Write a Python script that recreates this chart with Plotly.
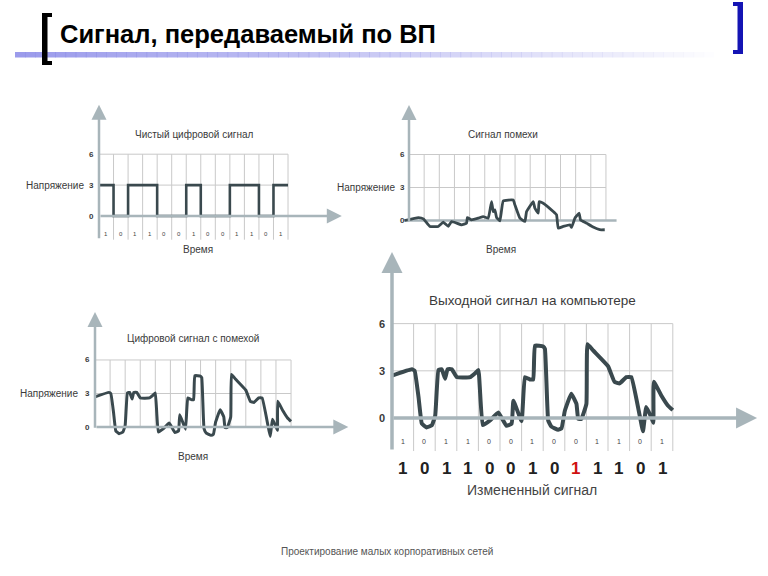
import plotly.graph_objects as go

W, H = 768, 576

# ---------------- data ----------------
clean_bits = [1, 0, 1, 1, 0, 0, 1, 0, 0, 1, 1, 0, 1]
received_bits = [1, 0, 1, 1, 0, 0, 1, 0, 1, 1, 1, 0, 1]
error_index = 8
voltage_ticks = [0, 3, 6]

noise_x = [-0.3, 0.62, 0.95, 1.38, 1.93, 2.26, 2.59, 2.81, 3.47, 3.8, 3.85, 4.13, 4.57, 4.9, 5.23,
           5.45, 5.56, 5.67, 5.78, 6.0, 6.22, 6.88, 6.99, 7.32, 7.65, 7.76, 8.2, 8.31, 8.53, 8.59,
           8.86, 9.52, 9.74, 9.85, 10.18, 10.62, 10.73, 10.95, 11.23, 11.32, 11.71, 12.15, 12.59, 12.92]
noise_y = [0, 0.27, 0.15, -0.54, -0.54, -0.15, -0.54, -0.09, -0.39, -0.24, 0.27, 0.06, 0.21, 0.36, 0.21,
           1.72, 0.81, 0.96, 0.27, -0.03, 1.78, 1.87, 1.42, 0.21, -0.09, 0.81, 1.72, 1.11, 0.66, 1.72,
           1.57, 0.81, 0.51, -0.69, -0.54, -0.39, -0.63, 0.21, 0.66, 0.06, -0.24, -0.6, -0.84, -0.84]

noisy_x = [0, 0.92, 1.05, 1.23, 1.38, 1.6, 1.85, 2.0, 2.15, 2.3, 2.46, 2.57, 2.77, 3.0, 3.62, 3.85, 4.0,
           4.2, 4.54, 4.92, 5.3, 5.54, 5.62, 6.0, 6.15, 6.31, 6.38, 6.54, 6.62, 7.0, 7.08, 7.23, 7.38,
           7.69, 7.85, 8.0, 8.3, 8.54, 8.62, 8.77, 9.0, 9.05, 9.31, 10.0, 10.3, 10.54, 10.85, 11.08,
           11.46, 11.62, 11.77, 12.0, 12.1, 12.12, 12.46, 12.77, 13.0]
noisy_y = [2.7, 3.1, 3.0, 1.3, -0.35, -0.6, -0.45, 0.15, 3.05, 3.1, 2.5, 3.1, 3.1, 2.6, 2.6, 2.85, 3.05,
           -0.45, -0.15, 0.35, -0.5, -0.35, 1.1, -0.2, 2.6, 2.5, 2.45, 2.45, 4.6, 4.55, 4.4, -0.15, -0.55,
           -0.75, -0.65, 0.45, 1.55, 0.9, -0.05, -0.05, 0.9, 4.7, 4.3, 3.3, 2.3, 2.2, 2.6, 2.6,
           0.2, -0.85, 0.7, 0.05, -0.3, 2.3, 1.45, 0.8, 0.5]

title_text = "Сигнал, передаваемый по ВП"
footer_text = "Проектирование малых корпоративных сетей"
panel_titles = ["Чистый цифровой сигнал", "Сигнал помехи", "Цифровой сигнал с помехой",
                "Выходной сигнал на компьютере"]
y_label = "Напряжение"
x_label = "Время"
changed_label = "Измененный сигнал"

# ---------------- styling ----------------
LINE = "#3a494e"
GRID = "#c9c9c9"
AXIS = "#a8b5ba"
TXT = "#3a3a3a"
FONT = "Liberation Sans"

# panel geometry: pixel of data origin, pixels per unit, data ranges
panels = [
    dict(s="", x0=99, sx=14.54, y0=216, sy=10.3, xr=(-5.5, 17.3), yr=(-4.0, 11.3)),
    dict(s="2", x0=409, sx=15.15, y0=220.5, sy=11.0, xr=(-5.0, 14.2), yr=(-3.2, 11.0)),
    dict(s="3", x0=95, sx=15.08, y0=427, sy=11.17, xr=(-5.5, 17.3), yr=(-3.3, 10.8)),
    dict(s="4", x0=392, sx=21.6, y0=418, sy=15.73, xr=(-1.0, 17.3), yr=(-5.4, 10.9)),
]

fig = go.Figure()
layout = dict(width=W, height=H, autosize=False, margin=dict(l=0, r=0, t=0, b=0),
              paper_bgcolor="white", plot_bgcolor="rgba(0,0,0,0)", showlegend=False)
shapes = []
annotations = []

for p in panels:
    s = p["s"]
    xd = [(p["x0"] + p["xr"][0] * p["sx"]) / W, (p["x0"] + p["xr"][1] * p["sx"]) / W]
    yd = [1 - (p["y0"] - p["yr"][0] * p["sy"]) / H, 1 - (p["y0"] - p["yr"][1] * p["sy"]) / H]
    layout["xaxis" + s] = dict(domain=xd, range=list(p["xr"]), visible=False, fixedrange=True,
                               anchor="y" + s)
    layout["yaxis" + s] = dict(domain=yd, range=list(p["yr"]), visible=False, fixedrange=True,
                               anchor="x" + s)


def ann(s, x, y, text, size, color=TXT, xanchor="center", weight="normal"):
    annotations.append(dict(xref="x" + s, yref="y" + s, x=x, y=y, text=text, showarrow=False,
                            xanchor=xanchor, yanchor="middle",
                            font=dict(family=FONT, size=size, color=color, weight=weight)))


def arrow(s, x0, y0, x1, y1, width):
    annotations.append(dict(xref="x" + s, yref="y" + s, axref="x" + s, ayref="y" + s,
                            x=x1, y=y1, ax=x0, ay=y0, text="", showarrow=True,
                            arrowhead=2, arrowsize=1.2, arrowwidth=width, arrowcolor=AXIS,
                            standoff=0, startstandoff=0))


def grid(s, ybottom, ncols=13):
    for i in range(1, ncols + 1):
        shapes.append(dict(type="line", xref="x" + s, yref="y" + s, x0=i, x1=i, y0=ybottom, y1=6,
                           line=dict(color=GRID, width=1), layer="below"))
    for v in voltage_ticks[1:]:
        shapes.append(dict(type="line", xref="x" + s, yref="y" + s, x0=0, x1=ncols, y0=v, y1=v,
                           line=dict(color=GRID, width=1), layer="below"))


def ticks(s, sx, size, dx=3, weight="bold"):
    for v in voltage_ticks:
        ann(s, -dx / sx, v, str(v), size, xanchor="right", weight=weight)


# ---- panel 1: clean digital signal ----
s = ""
grid(s, -2.3)
arrow(s, 0, 0, 16.7, 0, 2.5)
arrow(s, 0, -2.3, 0, 10.8, 2.5)
ticks(s, 14.54, 8)
ann(s, -13 / 14.54, 3, y_label, 10, xanchor="right")
ann(s, 6.5, 7.9, panel_titles[0], 10)
ann(s, 6.8, -3.25, x_label, 10)
for i, b in enumerate(clean_bits):
    ann(s, i + 0.5, -1.7, str(b), 6, color="#444444")
fig.add_trace(go.Scatter(x=list(range(len(clean_bits) + 1)),
                         y=[3 * b for b in clean_bits] + [3 * clean_bits[-1]],
                         mode="lines", line=dict(color=LINE, width=2.6, shape="hv"),
                         xaxis="x", yaxis="y", cliponaxis=False, hoverinfo="skip"))

# ---- panel 2: noise ----
s = "2"
grid(s, 0)
shapes.append(dict(type="line", xref="x2", yref="y2", x0=-0.3, x1=13.7, y0=0, y1=0,
                   line=dict(color=AXIS, width=2.5), layer="below"))
arrow(s, 0, -0.2, 0, 10.5, 2.5)
ticks(s, 15.15, 8, dx=2)
ann(s, -12 / 15.15, 3, y_label, 10, xanchor="right")
ann(s, 6.2, 7.8, panel_titles[1], 10)
ann(s, 6.1, -2.6, x_label, 10)
fig.add_trace(go.Scatter(x=noise_x, y=noise_y, mode="lines",
                         line=dict(color=LINE, width=2.8, shape="spline", smoothing=0.3),
                         xaxis="x2", yaxis="y2", cliponaxis=False, hoverinfo="skip"))

# ---- panel 3: signal with noise ----
s = "3"
grid(s, 0)
arrow(s, 0, 0, 16.8, 0, 2.5)
arrow(s, 0, -0.2, 0, 10.3, 2.5)
ticks(s, 15.08, 8)
ann(s, -15 / 15.08, 3, y_label, 10, xanchor="right")
ann(s, 6.5, 7.9, panel_titles[2], 10)
ann(s, 6.5, -2.6, x_label, 10)
fig.add_trace(go.Scatter(x=noisy_x, y=noisy_y, mode="lines",
                         line=dict(color=LINE, width=3, shape="spline", smoothing=0.3),
                         xaxis="x3", yaxis="y3", cliponaxis=False, hoverinfo="skip"))

# ---- panel 4: received signal ----
s = "4"
grid(s, -2.1)
arrow(s, 0, 0, 16.9, 0, 3.5)
arrow(s, 0, -2.1, 0, 10.55, 3.5)
ticks(s, 21.6, 11, dx=5)
ann(s, 6.5, 7.5, panel_titles[3], 13.5)
for i, b in enumerate(clean_bits):
    ann(s, i + 0.5, -1.5, str(b), 7, color="#444444")
for i, b in enumerate(received_bits):
    ann(s, i + 0.5, -3.2, str(b), 17, color="#d01010" if i == error_index else "#222222",
        weight="bold")
ann(s, 6.5, -4.6, changed_label, 14, color="#444444")
fig.add_trace(go.Scatter(x=noisy_x, y=noisy_y, mode="lines",
                         line=dict(color=LINE, width=4, shape="spline", smoothing=0.3),
                         xaxis="x4", yaxis="y4", cliponaxis=False, hoverinfo="skip"))

# ---------------- slide header decorations ----------------
def rect(x0, y0, x1, y1, color, opacity=1.0):
    shapes.append(dict(type="rect", xref="paper", yref="paper",
                       x0=x0 / W, x1=x1 / W, y0=1 - y1 / H, y1=1 - y0 / H,
                       fillcolor=color, opacity=opacity, line=dict(width=0), layer="above"))

# gradient underline
N = 70
gx0, gx1 = 15, 724
for i in range(N):
    t = i / (N - 1)
    a = max(0.0, (1 - t) ** 0.9) * 0.8
    xa = gx0 + (gx1 - gx0) * i / N
    xb = gx0 + (gx1 - gx0) * (i + 1) / N + 0.5
    rect(xa, 52, xb, 57.5, "rgb(130,130,230)", a)

# left black bracket
rect(42, 13, 47.5, 65, "#000000")
rect(42, 13, 52, 17, "#000000")
rect(42, 61, 52, 65, "#000000")
# right blue bracket
rect(737.5, 2, 743, 54, "#1414b4")
rect(733, 2, 743, 6, "#1414b4")
rect(733, 50, 743, 54, "#1414b4")

annotations.append(dict(xref="paper", yref="paper", x=58 / W, y=1 - 34 / H, text=title_text,
                        showarrow=False, xanchor="left", yanchor="middle",
                        font=dict(family=FONT, size=25.5, color="#000000", weight="bold")))
annotations.append(dict(xref="paper", yref="paper", x=387 / W, y=1 - 551 / H, text=footer_text,
                        showarrow=False, xanchor="center", yanchor="middle",
                        font=dict(family=FONT, size=10, color="#555555")))

layout["shapes"] = shapes
layout["annotations"] = annotations
fig.update_layout(**layout)
fig.write_html("out.html")
